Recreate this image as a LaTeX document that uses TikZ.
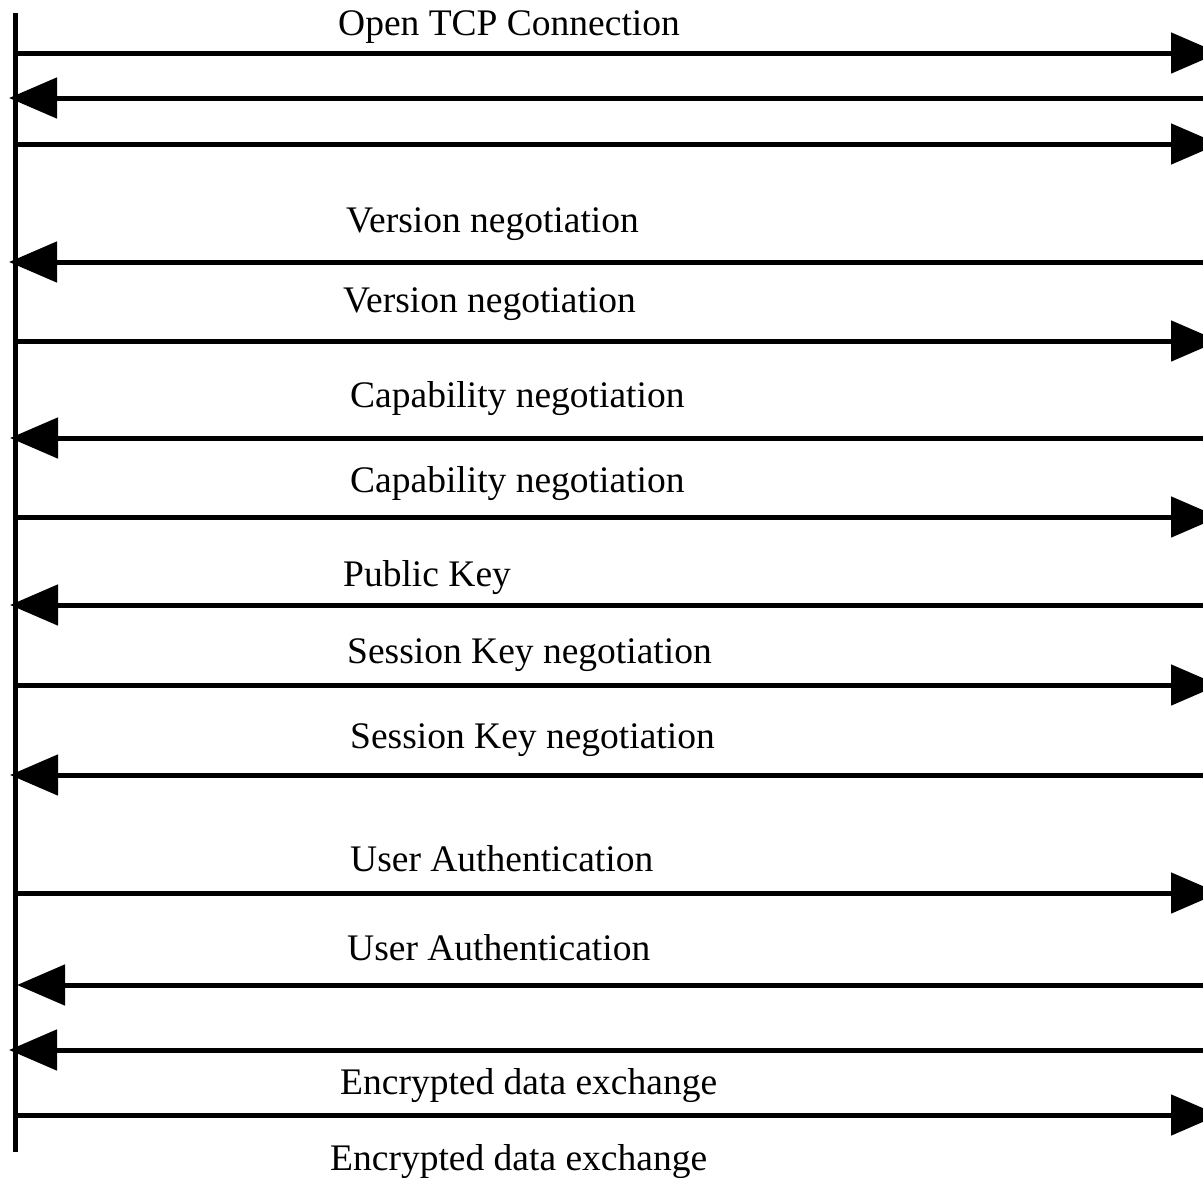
\documentclass[tikz,border=0pt]{standalone}
\usepackage{fontspec}
\setmainfont{Liberation Serif}
\usetikzlibrary{arrows.meta}
\begin{document}
\begin{tikzpicture}[x=1pt,y=-1pt,
  msg/.style={line width=5pt,-{Triangle[length=48pt,width=40pt]}},
  lifeline/.style={line width=4.5pt},
  lbl/.style={anchor=base west,inner sep=0pt,font=\fontsize{37.5}{40}\selectfont}]
\useasboundingbox (0,0) rectangle (1203,1178);
\clip (0,0) rectangle (1203,1178);
% lifeline
\coordinate (lt) at (15.5,13);
\coordinate (lb) at (15.5,1152);
\draw[lifeline] (lt) -- (lb);
% message end points
\coordinate (a1) at (15,53);    \coordinate (b1) at (1219,53);
\coordinate (a2) at (1203,98);  \coordinate (b2) at (9,98);
\coordinate (a3) at (15,144);   \coordinate (b3) at (1219,144);
\coordinate (a4) at (1203,262); \coordinate (b4) at (9,262);
\coordinate (a5) at (13,341);   \coordinate (b5) at (1219,341);
\coordinate (a6) at (1203,438); \coordinate (b6) at (10,438);
\coordinate (a7) at (15,517);   \coordinate (b7) at (1219,517);
\coordinate (a8) at (1203,605); \coordinate (b8) at (10,605);
\coordinate (a9) at (15,685);   \coordinate (b9) at (1219,685);
\coordinate (a10) at (1203,775);\coordinate (b10) at (10,775);
\coordinate (a11) at (15,893);  \coordinate (b11) at (1219,893);
\coordinate (a12) at (1203,985);\coordinate (b12) at (17,985);
\coordinate (a13) at (1203,1050);\coordinate (b13) at (9,1050);
\coordinate (a14) at (13,1115); \coordinate (b14) at (1219,1115);
\foreach \i in {1,...,14} \draw[msg] (a\i) -- (b\i);
% labels
\node[lbl] (t1)  at (338,35)   {Open TCP Connection};
\node[lbl] (t4)  at (346,232)  {Version negotiation};
\node[lbl] (t5)  at (343,312)  {Version negotiation};
\node[lbl] (t6)  at (350,407)  {Capability negotiation};
\node[lbl] (t7)  at (350,492)  {Capability negotiation};
\node[lbl] (t8)  at (343,586)  {Public Key};
\node[lbl] (t9)  at (347,663)  {Session Key negotiation};
\node[lbl] (t10) at (350,748)  {Session Key negotiation};
\node[lbl] (t11) at (350,871)  {User Authentication};
\node[lbl] (t12) at (347,960)  {User Authentication};
\node[lbl] (t14) at (340,1094) {Encrypted data exchange};
\node[lbl] (t15) at (330,1170) {Encrypted data exchange};
\end{tikzpicture}
\end{document}
